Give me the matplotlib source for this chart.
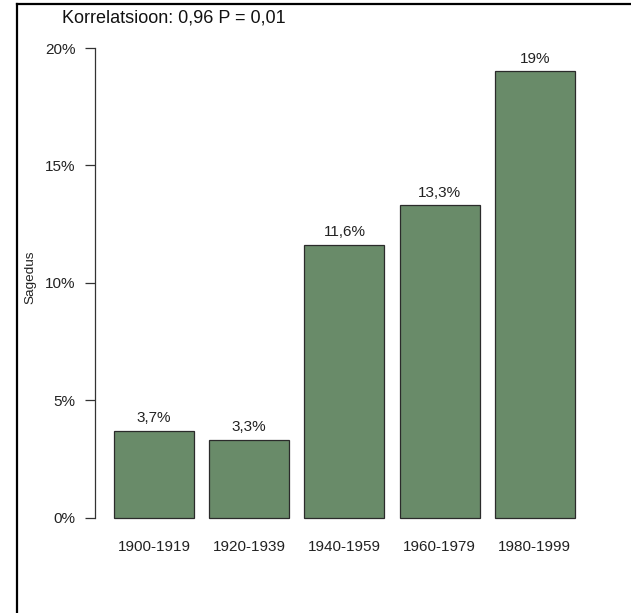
import matplotlib
matplotlib.use("Agg")
import matplotlib.pyplot as plt
from matplotlib.lines import Line2D

categories = ["1900-1919", "1920-1939", "1940-1959", "1960-1979", "1980-1999"]
values = [3.7, 3.3, 11.6, 13.3, 19.0]
value_labels = ["3,7%", "3,3%", "11,6%", "13,3%", "19%"]
yticks = [0, 5, 10, 15, 20]
ytick_labels = ["0%", "5%", "10%", "15%", "20%"]
title = "Korrelatsioon: 0,96 P = 0,01"
ylabel = "Sagedus"

plt.rcParams['font.family'] = ['Liberation Sans', 'DejaVu Sans']
W, H = 631, 613
fig = plt.figure(figsize=(W / 100, H / 100), dpi=100)

# axes placement (pixel-derived)
x_left, x_right = 95.4, 596.6
ylim = (-0.8, 20.8)
y0_px, y20_px = 517.5, 48.0
ppu = (y0_px - y20_px) / 20
bot_px = y0_px + (0 - ylim[0]) * ppu
top_px = y0_px - (ylim[1]) * ppu
ax = fig.add_axes([x_left / W, 1 - bot_px / H, (x_right - x_left) / W, (bot_px - top_px) / H])

xs = [0.5 + 1.19 * i for i in range(len(values))]
ax.bar(xs, values, width=1.0, color="#698B69", edgecolor="#2b2b2b", linewidth=0.9, zorder=2)
for x, v, lab in zip(xs, values, value_labels):
    ax.annotate(lab, (x, v), xytext=(0, 9.2), textcoords="offset points",
                ha="center", va="center", fontsize=11, color="#222222")

ax.set_xlim(-(114 - x_left) / 80, (x_right - 114) / 80)
ax.set_ylim(*ylim)
ax.set_xticks(xs)
ax.set_xticklabels(categories, fontsize=11, color="#222222")
ax.tick_params(axis="x", length=0, pad=2.5)
ax.set_yticks(yticks)
ax.set_yticklabels(ytick_labels, fontsize=11, color="#222222")
ax.tick_params(axis="y", length=7.2, width=0.9, color="#333333", pad=7.2)
for s in ["top", "right", "bottom"]:
    ax.spines[s].set_visible(False)
ax.spines["left"].set_bounds(0, 20)
ax.spines["left"].set_color("#333333")
ax.spines["left"].set_linewidth(0.9)
ax.set_facecolor("none")

fig.text(173.5 / W, 1 - 18 / H, title, ha="center", va="center", fontsize=13, color="#111111")
fig.text(30 / W, 1 - 277 / H, ylabel, ha="center", va="center", rotation=90, fontsize=9.7, color="#222222")

# outer frame (left and top edges)
fig.add_artist(Line2D([17 / W, 17 / W], [0, 1 - 4 / H], transform=fig.transFigure, color="black", linewidth=1.6))
fig.add_artist(Line2D([17 / W, 1], [1 - 4 / H, 1 - 4 / H], transform=fig.transFigure, color="black", linewidth=1.6))

fig.savefig("out.png", dpi=100)
